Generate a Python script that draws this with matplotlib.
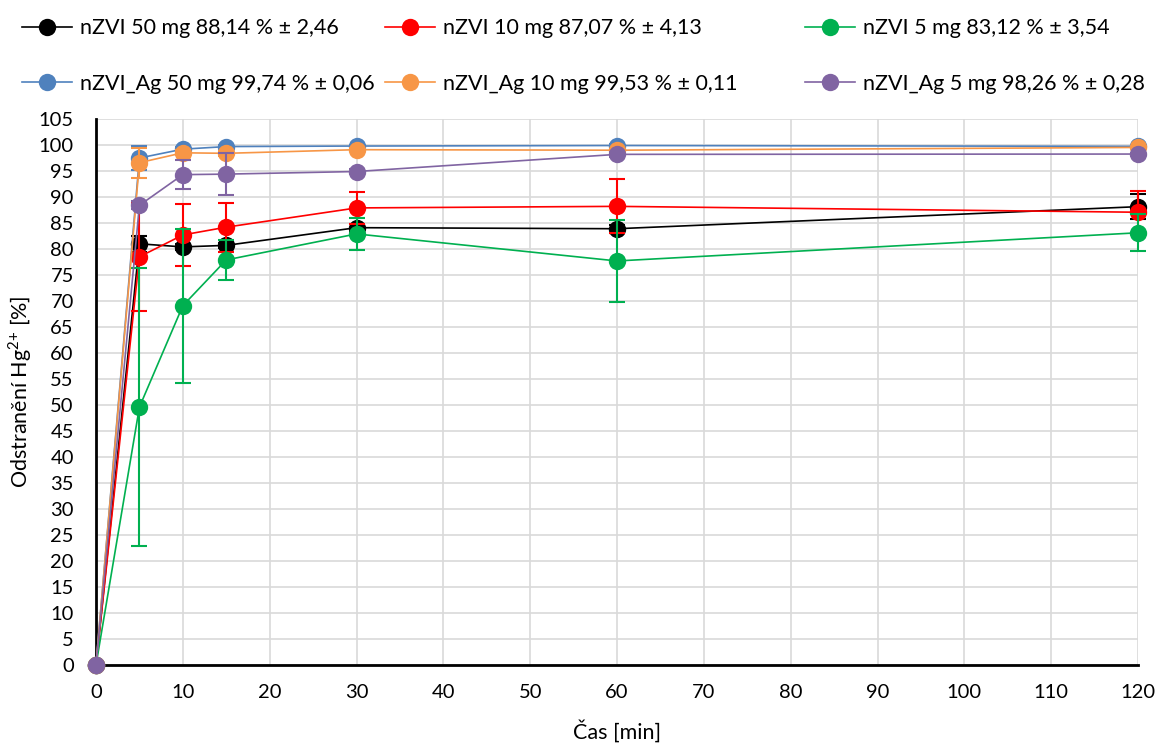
import matplotlib
matplotlib.use("Agg")
import matplotlib.pyplot as plt
from matplotlib.lines import Line2D

plt.rcParams['font.family'] = ['Lato', 'DejaVu Sans']

time_min = [0, 5, 10, 15, 30, 60, 120]

labels = [
    "nZVI 50 mg 88,14 % ± 2,46",
    "nZVI 10 mg 87,07 % ± 4,13",
    "nZVI 5 mg 83,12 % ± 3,54",
    "nZVI_Ag 50 mg 99,74 % ± 0,06",
    "nZVI_Ag 10 mg 99,53 % ± 0,11",
    "nZVI_Ag 5 mg 98,26 % ± 0,28",
]
colors = ["#000000", "#ff0000", "#00b050", "#4f81bd", "#f79646", "#8064a2"]

nzvi_50 = [0, 81.0, 80.4, 80.7, 84.1, 83.9, 88.14]
nzvi_50_err = [0, 1.5, 0.5, 0.5, 0.8, 0.8, 2.46]
nzvi_10 = [0, 78.5, 82.7, 84.2, 87.9, 88.2, 87.07]
nzvi_10_err = [0, 10.4, 5.9, 4.7, 3.0, 5.2, 4.13]
nzvi_5 = [0, 49.6, 69.1, 77.9, 82.9, 77.7, 83.12]
nzvi_5_err = [0, 26.7, 14.8, 3.8, 3.1, 7.9, 3.54]
ag_50 = [0, 97.5, 99.2, 99.7, 99.8, 99.9, 99.74]
ag_50_err = [0, 2.3, 0.4, 0.3, 0.2, 0.2, 0.06]
ag_10 = [0, 96.6, 98.5, 98.4, 99.1, 99.0, 99.53]
ag_10_err = [0, 2.9, 0.5, 0.5, 0.3, 0.3, 0.11]
ag_5 = [0, 88.4, 94.3, 94.4, 94.9, 98.2, 98.26]
ag_5_err = [0, 0.8, 2.8, 4.0, 0.5, 0.5, 0.28]

series = [
    (nzvi_50, nzvi_50_err),
    (nzvi_10, nzvi_10_err),
    (nzvi_5, nzvi_5_err),
    (ag_50, ag_50_err),
    (ag_10, ag_10_err),
    (ag_5, ag_5_err),
]

W, H = 1159, 747
fig = plt.figure(figsize=(W / 100, H / 100), dpi=100)
ax = fig.add_axes([96 / W, 1 - 665 / H, (1138 - 96) / W, (665 - 119) / H])

FS = 14.5
FL = 15.5
handles = []
for k, ((vals, errs), c, lab) in enumerate(zip(series, colors, labels)):
    ax.errorbar(time_min, vals, yerr=errs, fmt='none', ecolor=c, elinewidth=1.5,
                capsize=5.5, capthick=1.5, clip_on=False, zorder=3 + 2 * k)
    ax.plot(time_min, vals, color=c, lw=1.2, marker='o', markersize=12.5,
            markeredgewidth=0, clip_on=False, zorder=4 + 2 * k)
    handles.append(Line2D([], [], color=c, lw=1.2, marker='o', markersize=12.5,
                          markeredgewidth=0))

ax.set_xlim(0, 120)
ax.set_ylim(0, 105)
ax.set_xticks(range(0, 121, 10))
ax.set_yticks(range(0, 106, 5))
ax.grid(True, color='#d9d9d9', lw=1.2, zorder=0)
ax.set_axisbelow(True)
for s in ['top', 'right']:
    ax.spines[s].set_visible(False)
for s in ['left', 'bottom']:
    ax.spines[s].set_linewidth(2)
    ax.spines[s].set_color('black')
    ax.spines[s].set_zorder(2.5)
ax.tick_params(axis='y', length=0, labelsize=FS, pad=16)
ax.tick_params(axis='x', length=0, labelsize=FS, pad=14)
ax.set_xlabel("Čas [min]", fontsize=FL, labelpad=13)
ax.set_ylabel("Odstranění Hg$^{\\mathregular{2{+}}}$ [%]", fontsize=FL, labelpad=3)

col_x = [22, 385, 805]
for j in range(3):
    leg = fig.legend([handles[j], handles[j + 3]], [labels[j], labels[j + 3]],
                     loc='upper left', bbox_to_anchor=(col_x[j] / W, 1 - 18.5 / H),
                     frameon=False, fontsize=FL, handlelength=2.3, handletextpad=0.4,
                     labelspacing=1.63, borderpad=0, borderaxespad=0)

fig.savefig("out.png", dpi=100)
